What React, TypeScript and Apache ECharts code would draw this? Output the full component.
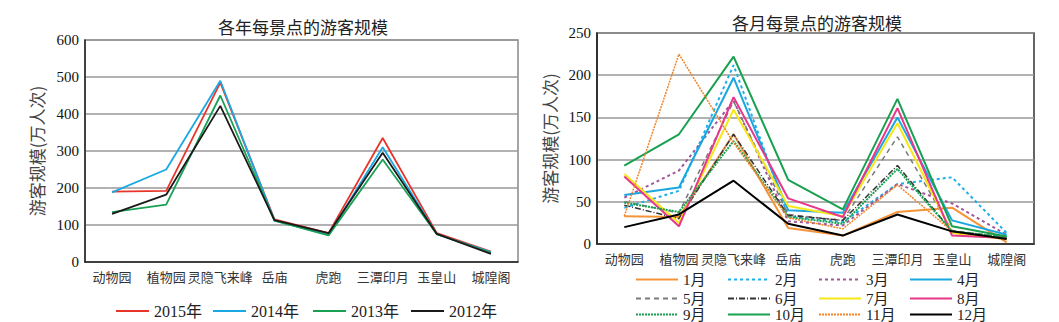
import React, { useEffect, useRef } from "react";
import * as echarts from "echarts";

const spots = ["动物园", "植物园", "灵隐飞来峰", "岳庙", "虎跑", "三潭印月", "玉皇山", "城隍阁"];

const yearNames = ["2015年", "2014年", "2013年", "2012年"];
const y2015 = [190, 192, 485, 115, 78, 335, 78, 28];
const y2014 = [188, 250, 490, 112, 73, 310, 75, 27];
const y2013 = [135, 155, 450, 112, 72, 277, 75, 25];
const y2012 = [130, 182, 422, 113, 78, 295, 76, 22];
const yearValues = [y2015, y2014, y2013, y2012];

const monthNames = ["1月", "2月", "3月", "4月", "5月", "6月", "7月", "8月", "9月", "10月", "11月", "12月"];
const m1 = [33, 32, 130, 19, 10, 38, 43, 2];
const m2 = [43, 63, 212, 33, 26, 71, 79, 13];
const m3 = [55, 87, 170, 27, 22, 71, 48, 11];
const m4 = [58, 67, 197, 40, 37, 150, 28, 11];
const m5 = [50, 37, 169, 35, 28, 127, 16, 8];
const m6 = [46, 30, 130, 34, 28, 93, 15, 7];
const m7 = [83, 25, 159, 45, 33, 143, 13, 6];
const m8 = [80, 21, 174, 54, 32, 161, 10, 7];
const m9 = [49, 38, 122, 32, 24, 89, 15, 8];
const m10 = [93, 130, 222, 76, 41, 172, 21, 9];
const m11 = [33, 225, 120, 31, 18, 70, 15, 5];
const m12 = [20, 35, 75, 24, 10, 35, 15, 6];
const monthValues = [m1, m2, m3, m4, m5, m6, m7, m8, m9, m10, m11, m12];

const yearColors = ["#e8352a", "#1aa9e2", "#18a055", "#1a1a1a"];
const monthStyles: any[] = [
  { color: "#f39439", width: 2, type: "solid" },
  { color: "#1cb0e8", width: 2, type: [3, 3] },
  { color: "#a0569a", width: 2, type: [3, 3] },
  { color: "#1aa7e0", width: 2, type: "solid" },
  { color: "#7a7a7a", width: 1.5, type: [5, 4] },
  { color: "#333333", width: 1.5, type: [6, 2, 1, 2] },
  { color: "#f5e816", width: 2, type: "solid" },
  { color: "#e8368a", width: 2, type: "solid" },
  { color: "#18a050", width: 2, type: [2, 1] },
  { color: "#18a050", width: 2, type: "solid" },
  { color: "#f0852a", width: 1.5, type: [2, 1] },
  { color: "#000000", width: 2, type: "solid" },
];

const SERIF = "'Liberation Serif', 'Noto Sans CJK SC', serif";
const CJK = "'Noto Sans CJK SC', sans-serif";

export default function App() {
  const ref = useRef<HTMLDivElement>(null);
  useEffect(() => {
    if (!ref.current) return;
    const chart = echarts.init(ref.current, undefined, { renderer: "svg" });

    const xAxisCommon = (gi: number) => ({
      type: "category",
      gridIndex: gi,
      data: spots,
      boundaryGap: true,
      axisLine: { lineStyle: { color: "#222", width: 1.5 } },
      axisTick: { alignWithLabel: true, length: 5, lineStyle: { color: "#444" } },
      axisLabel: { interval: 0, hideOverlap: false, fontFamily: CJK, fontSize: 13, color: "#333", margin: 8 },
    });
    const yAxisCommon = (gi: number, max: number, interval: number, gap: number) => ({
      type: "value",
      gridIndex: gi,
      min: 0,
      max,
      interval,
      name: "游客规模(万人次)",
      nameLocation: "middle",
      nameGap: gap,
      nameTextStyle: { fontFamily: CJK, fontSize: 17, color: "#444" },
      axisLine: { show: true, lineStyle: { color: "#222", width: 1.5 } },
      axisTick: { show: false },
      axisLabel: { fontFamily: SERIF, fontSize: 15, color: "#111", margin: 6 },
      splitLine: { lineStyle: { color: "#999", width: 1.5 } },
    });

    const series: any[] = [];
    yearNames.forEach((n, i) => {
      series.push({
        name: n,
        type: "line",
        xAxisIndex: 0,
        yAxisIndex: 0,
        data: yearValues[i],
        symbol: "none",
        lineStyle: { color: yearColors[i], width: 1.8 },
        itemStyle: { color: yearColors[i] },
      });
    });
    monthNames.forEach((n, i) => {
      series.push({
        name: n,
        type: "line",
        xAxisIndex: 1,
        yAxisIndex: 1,
        data: monthValues[i],
        symbol: "none",
        lineStyle: monthStyles[i],
        itemStyle: { color: monthStyles[i].color },
      });
    });

    const legends: any[] = [];
    const yearLegendX = [110, 207, 307, 405];
    yearNames.forEach((n, i) => {
      legends.push({
        data: [n],
        left: yearLegendX[i],
        top: 298,
        itemWidth: 33,
        itemHeight: 14,
        itemGap: 4,
        itemStyle: { opacity: 0 },
        textStyle: { fontFamily: SERIF, fontSize: 16, color: "#222" },
      });
    });
    const colX = [630, 722, 813, 904];
    const rowY = [267, 286, 302];
    monthNames.forEach((n, i) => {
      legends.push({
        data: [n],
        left: colX[i % 4],
        top: rowY[Math.floor(i / 4)],
        itemWidth: 42,
        itemHeight: 14,
        itemStyle: { opacity: 0 },
        textStyle: { fontFamily: SERIF, fontSize: 15, color: "#222" },
      });
    });

    chart.setOption({
      animation: false,
      backgroundColor: "#ffffff",
      title: [
        {
          text: "各年每景点的游客规模",
          left: 298,
          top: 13,
          textAlign: "center",
          textStyle: { fontFamily: CJK, fontSize: 17, fontWeight: "normal", color: "#222" },
        },
        {
          text: "各月每景点的游客规模",
          left: 812,
          top: 9,
          textAlign: "center",
          textStyle: { fontFamily: CJK, fontSize: 17, fontWeight: "normal", color: "#222" },
        },
      ],
      legend: legends,
      grid: [
        { left: 85, top: 40, width: 433, height: 222, show: true, borderColor: "#888", borderWidth: 1.5 },
        { left: 597, top: 33, width: 437, height: 211, show: true, borderColor: "#333", borderWidth: 1.5 },
      ],
      xAxis: [xAxisCommon(0), xAxisCommon(1)],
      yAxis: [yAxisCommon(0, 600, 100, 40), yAxisCommon(1, 250, 50, 39)],
      series,
    });
    return () => chart.dispose();
  }, []);
  return (
    <div
      ref={ref}
      style={{ position: "absolute", left: 0, top: 0, width: 1059, height: 322 }}
    />
  );
}
